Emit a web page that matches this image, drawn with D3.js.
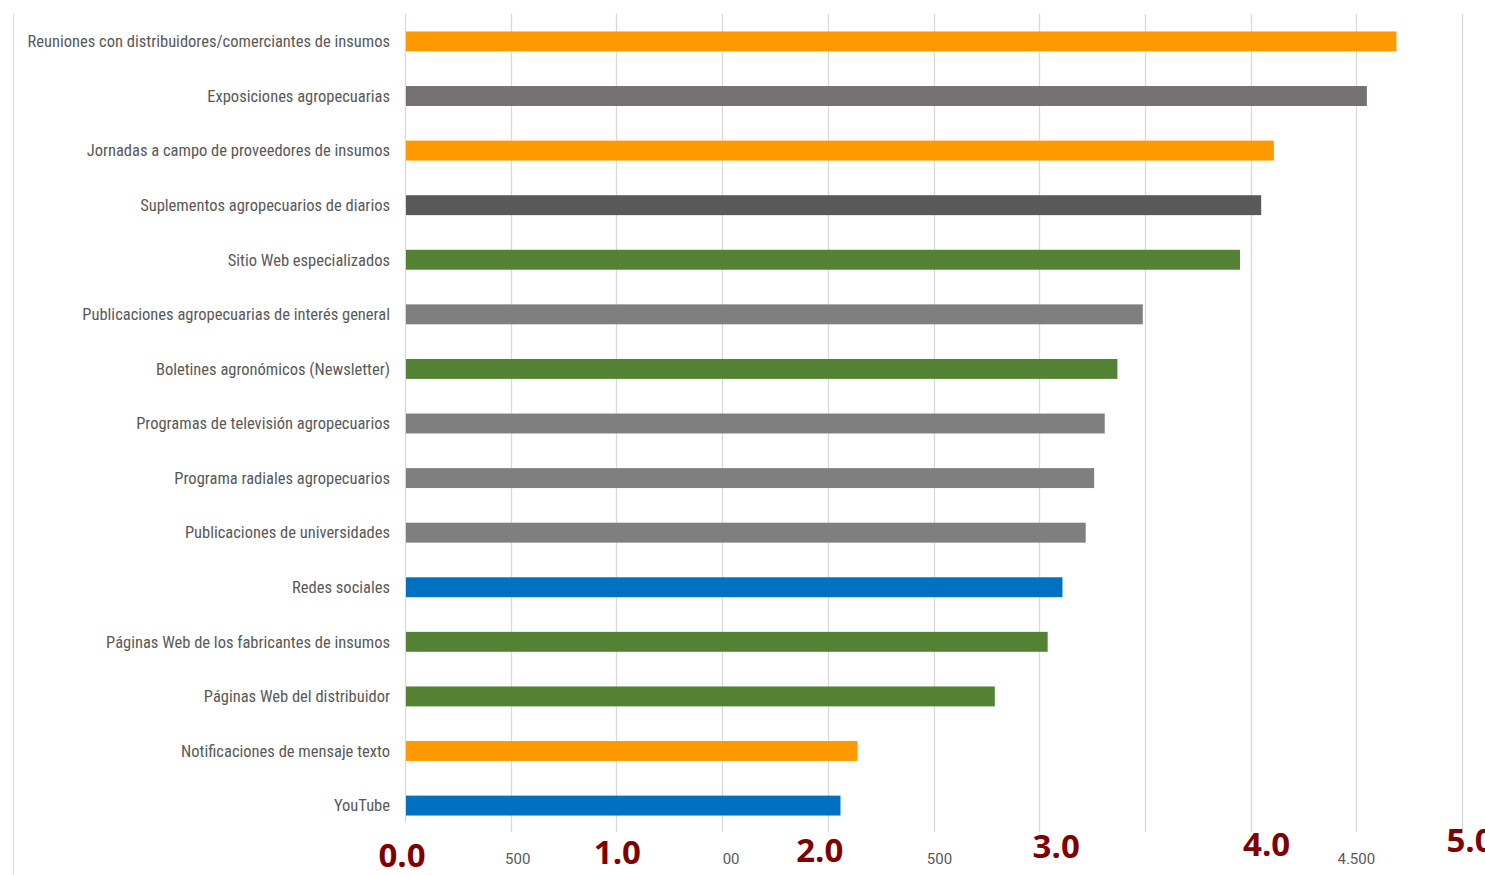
<!DOCTYPE html>
<html>
  <head>
    <title>Medios de información</title>
    <script src="https://d3js.org/d3.v7.min.js"></script>
    <style>
      body { margin: 0; background: #fff; }
      .cat text {
        font-family: "Liberation Sans Narrow", "Roboto Condensed", Roboto, sans-serif;
        font-size: 16.5px;
        fill: #595959;
      }
      .small-tick {
        font-family: "Liberation Sans Narrow", Roboto, sans-serif;
        font-size: 15px;
        fill: #595959;
      }
      .big-tick {
        font-family: "Open Sans", "DejaVu Sans", sans-serif;
        font-weight: bold;
        font-size: 33px;
        fill: #7f0000;
      }
    </style>
  </head>
  <body>
    <svg width="1485" height="875"></svg>

    <script>
      const categories = [
        "Reuniones con distribuidores/comerciantes de insumos",
        "Exposiciones agropecuarias",
        "Jornadas a campo de proveedores de insumos",
        "Suplementos agropecuarios de diarios",
        "Sitio Web especializados",
        "Publicaciones agropecuarias de interés general",
        "Boletines agronómicos (Newsletter)",
        "Programas de televisión agropecuarios",
        "Programa radiales agropecuarios",
        "Publicaciones de universidades",
        "Redes sociales",
        "Páginas Web de los fabricantes de insumos",
        "Páginas Web del distribuidor",
        "Notificaciones de mensaje texto",
        "YouTube"
      ];
      const values = [4.69, 4.55, 4.11, 4.05, 3.95, 3.49, 3.37, 3.31, 3.26, 3.22, 3.11, 3.04, 2.79, 2.14, 2.06];
      const barColors = [
        "#ff9900", "#767171", "#ff9900", "#595959", "#548235",
        "#7f7f7f", "#548235", "#7f7f7f", "#7f7f7f", "#7f7f7f",
        "#0070c0", "#548235", "#548235", "#ff9900", "#0070c0"
      ];
      const gridTicks = [0, 0.5, 1, 1.5, 2, 2.5, 3, 3.5, 4, 4.5, 5];
      // leftovers of the original axis labels, partly hidden by the big ones
      const smallTicks = [0.5, 1.5, 2.5, 4.5];
      const smallTickLabels = ["500", "00", "500", "4.500"];
      const smallTickShift = [7, 9, 6, 0];
      const bigTicks = [0, 1, 2, 3, 4, 5];
      const bigTickLabels = ["0.0", "1.0", "2.0", "3.0", "4.0", "5.0"];
      const bigTickShift = [-3, 1, -8, 17, 16, 8];
      const bigTickDrop = [0, -3, -5, -9, -11, -15];

      function main() {
        const svg = d3.select("svg");
        const x = d3.scaleLinear().domain([0, 5]).range([405, 1462]);
        const y = d3.scaleBand().domain(categories).range([14, 833]).paddingInner(0.635).paddingOuter(0.32);

        // frame line on the left
        svg.append("line")
          .attr("x1", 13.5).attr("x2", 13.5)
          .attr("y1", 14).attr("y2", 875)
          .attr("stroke", "#d9d9d9");

        svg.append("g").selectAll("line").data(gridTicks.slice(1)).join("line")
          .attr("x1", d => Math.round(x(d)) + 0.5)
          .attr("x2", d => Math.round(x(d)) + 0.5)
          .attr("y1", 14).attr("y2", 832)
          .attr("stroke", "#d9d9d9").attr("stroke-width", 1.3);

        svg.append("line")
          .attr("x1", x(0) + 0.5).attr("x2", x(0) + 0.5)
          .attr("y1", 14).attr("y2", 822)
          .attr("stroke", "#d9d9d9").attr("stroke-width", 1.3);

        svg.append("g").selectAll("rect").data(values).join("rect")
          .attr("x", x(0) + 1)
          .attr("y", (d, i) => y(categories[i]))
          .attr("width", d => x(d) - x(0) - 1)
          .attr("height", y.bandwidth())
          .attr("fill", (d, i) => barColors[i]);

        const cat = svg.append("g").attr("class", "cat");
        cat.selectAll("text").data(categories).join("text")
          .attr("x", 390)
          .attr("y", d => y(d) + y.bandwidth() / 2)
          .attr("dy", "0.35em")
          .attr("text-anchor", "end")
          .text(d => d);

        svg.append("g").selectAll("text").data(smallTicks).join("text")
          .attr("class", "small-tick")
          .attr("x", (d, i) => x(d) + smallTickShift[i])
          .attr("y", 864)
          .attr("text-anchor", "middle")
          .text((d, i) => smallTickLabels[i]);

        svg.append("g").selectAll("text").data(bigTicks).join("text")
          .attr("class", "big-tick")
          .attr("x", (d, i) => x(d) + bigTickShift[i])
          .attr("y", (d, i) => 867 + bigTickDrop[i])
          .attr("text-anchor", "middle")
          .text((d, i) => bigTickLabels[i]);
      }
      main();
    </script>
  </body>
</html>
